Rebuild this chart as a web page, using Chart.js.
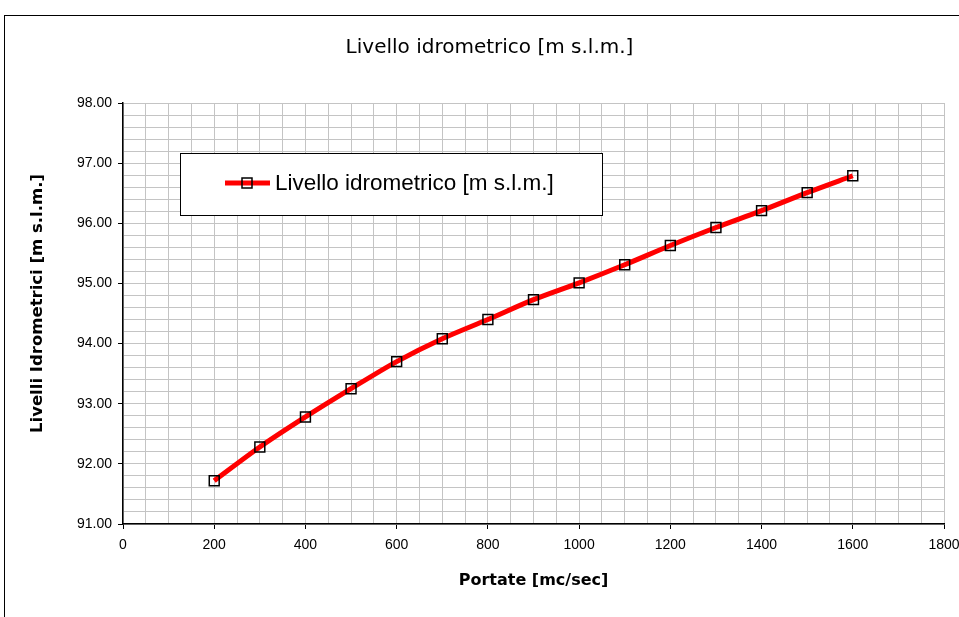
<!DOCTYPE html>
<html>
<head>
<meta charset="utf-8">
<script src="https://cdn.jsdelivr.net/npm/chart.js@4.4.1/dist/chart.umd.min.js"></script>
<style>
  body { margin: 0; background: #fff; }
  #wrap { width: 959px; height: 617px; }
</style>
</head>
<body>
<div id="wrap"><canvas id="chartLivello"></canvas></div>
<script>
// portate [mc/sec] e livelli
const portate = [200, 300, 400, 500, 600, 700, 800, 900, 1000, 1100, 1200, 1300, 1400, 1500, 1600]
const livelli = [91.72, 92.28, 92.78, 93.25, 93.70, 94.08, 94.40, 94.73, 95.01, 95.31, 95.63, 95.93, 96.21, 96.51, 96.79]

const titolo = "Livello idrometrico [m s.l.m.]"
const nomeSerie = "Livello idrometrico [m s.l.m.]"
const titoloX = "Portate [mc/sec]"
const titoloY = "Livelli Idrometrici [m s.l.m.]"

const fontBase = "'Liberation Sans', Arial, sans-serif"
const fontTitoli = "'DejaVu Sans', sans-serif"

//cornice esterna come nel foglio excel
const pluginCornice = {
    id: "cornice",
    beforeDraw(chart) {
        const ctx = chart.ctx
        ctx.save()
        ctx.strokeStyle = "#000"
        ctx.lineWidth = 1
        ctx.strokeRect(4.5, 15.5, 1000, 700)
        ctx.restore()
    }
}

//legenda disegnata dentro l'area del grafico, con il riquadro
const pluginLegenda = {
    id: "legendaInterna",
    afterDraw(chart) {
        const ctx = chart.ctx
        const area = chart.chartArea
        const x0 = area.left + 57
        const y0 = area.top + 50
        const w = 422
        const h = 62
        ctx.save()
        ctx.fillStyle = "#fff"
        ctx.fillRect(x0, y0, w, h)
        ctx.strokeStyle = "#000"
        ctx.lineWidth = 1
        ctx.strokeRect(x0 + 0.5, y0 + 0.5, w, h)
        const ym = y0 + 30
        ctx.strokeStyle = "red"
        ctx.lineWidth = 5
        ctx.beginPath()
        ctx.moveTo(x0 + 45, ym)
        ctx.lineTo(x0 + 90, ym)
        ctx.stroke()
        ctx.strokeStyle = "#000"
        ctx.lineWidth = 1.5
        ctx.strokeRect(x0 + 62, ym - 5, 10, 10)
        ctx.fillStyle = "#000"
        ctx.font = "22.5px " + fontBase
        ctx.textBaseline = "middle"
        ctx.fillText(nomeSerie, x0 + 95, ym + 1)
        ctx.restore()
    }
}

//titolo asse y spostato un po' verso l'alto come nell'originale
const pluginTitoloY = {
    id: "titoloY",
    afterDraw(chart) {
        const ctx = chart.ctx
        const area = chart.chartArea
        ctx.save()
        ctx.translate(38, (area.top + area.bottom) / 2 - 10)
        ctx.rotate(-Math.PI / 2)
        ctx.fillStyle = "#000"
        ctx.font = "bold 16.5px " + fontTitoli
        ctx.textAlign = "center"
        ctx.textBaseline = "middle"
        ctx.fillText(titoloY, 0, 0)
        ctx.restore()
    }
}

function isIntero(v) {
    return Math.abs(v - Math.round(v)) < 1e-6
}
function isMultiplo200(v) {
    return Math.abs(v / 200 - Math.round(v / 200)) < 1e-6
}

const dataLivello = {
    datasets: [
    {
        label: nomeSerie,
        data: portate.map((p, i) => ({ x: p, y: livelli[i] })),
        borderColor: "red",
        borderWidth: 5,
        tension: 0.3,
        pointStyle: "rect",
        pointRadius: 7,
        pointHoverRadius: 7,
        pointBorderColor: "#000",
        pointBorderWidth: 1.5,
        pointBackgroundColor: "rgba(0,0,0,0)",
    },
    ],
}

const configLivello = {
    type: "line",
    data: dataLivello,
    options: {
        responsive: true,
        maintainAspectRatio: false,
        animation: false,
        layout: { padding: { left: 35, right: 15, top: 0, bottom: 0 } },
        plugins: {
            legend: { display: false },
            tooltip: { enabled: false },
            title: {
                display: true,
                text: titolo,
                color: "#000",
                font: { family: fontTitoli, size: 20, weight: "normal" },
                padding: { top: 36, bottom: 43 },
            },
        },
        scales: {
            x: {
                type: "linear",
                min: 0,
                max: 1800,
                afterFit: (scale) => {
                    scale.height = 93
                    scale.paddingRight = 0
                },
                ticks: {
                    stepSize: 50,
                    autoSkip: false,
                    maxRotation: 0,
                    color: "#000",
                    font: { family: fontBase, size: 14 },
                    padding: 8,
                    callback: (v) => isMultiplo200(v) ? String(v) : "",
                },
                grid: {
                    color: "#c4c4c4",
                    lineWidth: 1,
                    tickLength: 5,
                    tickColor: (c) => isMultiplo200(c.tick.value) ? "#000" : "rgba(0,0,0,0)",
                },
                border: { color: "#000", width: 1.5 },
                title: {
                    display: true,
                    text: titoloX,
                    color: "#000",
                    font: { family: fontTitoli, size: 16, weight: "bold" },
                    padding: { top: 0, bottom: 27 },
                },
            },
            y: {
                type: "linear",
                min: 91,
                max: 98,
                afterFit: (scale) => {
                    scale.width = 88
                    scale.paddingTop = 0
                    scale.paddingBottom = 0
                },
                ticks: {
                    stepSize: 0.2,
                    autoSkip: false,
                    color: "#000",
                    font: { family: fontBase, size: 14 },
                    padding: 6,
                    callback: (v) => isIntero(v) ? v.toFixed(2) : "",
                },
                grid: {
                    color: "#c4c4c4",
                    lineWidth: 1,
                    tickLength: 5,
                    tickColor: (c) => isIntero(c.tick.value) ? "#000" : "rgba(0,0,0,0)",
                },
                border: { color: "#000", width: 1.5 },
                title: { display: false },
            },
        },
    },
    plugins: [pluginCornice, pluginLegenda, pluginTitoloY],
}

const chartLivello = new Chart(document.getElementById("chartLivello"), configLivello)
</script>
</body>
</html>
